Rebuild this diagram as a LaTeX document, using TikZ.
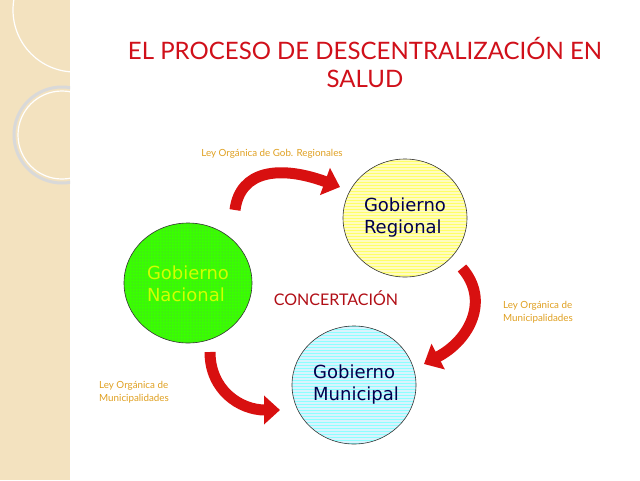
\documentclass[tikz,border=0pt]{standalone}
\usepackage{fontspec}
\setmainfont{Lato}
\newfontfamily\verd{DejaVu Sans}
\usetikzlibrary{arrows.meta,patterns}
\definecolor{strip}{HTML}{F3E2BF}
\definecolor{ttl}{HTML}{D0101A}
\definecolor{lab}{HTML}{E0A020}
\definecolor{arr}{HTML}{D81010}
\begin{document}
\begin{tikzpicture}[x=1pt,y=-1pt,
  circ/.style={draw=black!80,line width=0.6pt},
  ctext/.style={font=\verd\fontsize{18}{22}\selectfont,align=left},
  law/.style={font=\fontsize{9.8}{13}\selectfont,text=lab,align=left,inner sep=0},
  bigarrow/.style={line width=11pt,-{Triangle[length=16pt,width=28pt]},arr}]
\useasboundingbox (0,0) rectangle (640,480);
\fill[white] (0,0) rectangle (640,480);
\fill[strip] (0,0) rectangle (70,480);
\draw[white,line width=1pt] (70,0) -- (70,480);
\begin{scope}
\clip (0,0) rectangle (70,480);
\draw[white,line width=1.2pt] (75,10) circle (62);
\draw[black!15,line width=3pt] (62,135) circle (48);
\draw[white,line width=1.2pt] (62,135) circle (44);
\end{scope}
\node[text=ttl,font=\fontsize{24}{28}\selectfont,align=center] (title) at (365,62) {EL PROCESO DE DESCENTRALIZACIÓN EN\\SALUD};
% circles
\fill[green!70!lime] (188,283) ellipse (64 and 60);
\fill[pattern=dots,pattern color=green!40!black!60] (188,283) ellipse (64 and 60);
\draw[circ] (188,283) ellipse (64 and 60);
\node[ctext,text=lime!70!yellow] (nac) at (188,284) {Gobierno\\Nacional};
\fill[yellow!25] (405,218) ellipse (62 and 59);
\fill[pattern=horizontal lines,pattern color=yellow!60] (405,218) ellipse (62 and 59);
\draw[circ] (405,218) ellipse (62 and 59);
\node[ctext,text=blue!30!black] (reg) at (405,218) {Gobierno\\Regional};
\fill[cyan!15] (354,385) ellipse (62 and 59);
\fill[pattern=horizontal lines,pattern color=cyan!45] (354,385) ellipse (62 and 59);
\draw[circ] (354,385) ellipse (62 and 59);
\node[ctext,text=blue!30!black] (mun) at (356,385) {Gobierno\\Municipal};
\node[text=ttl!85!black,font=\fontsize{16}{18}\selectfont] (conc) at (336,298) {CONCERTACIÓN};
% labels
\node[law] (l1) at (272,154) {Ley Orgánica de Gob. Regionales};
\node[law,anchor=west] (l2) at (503,312) {Ley Orgánica de\\Municipalidades};
\node[law,anchor=west] (l3) at (99,392) {Ley Orgánica de\\Municipalidades};
% arrows
\coordinate (a1s) at (235,210); \coordinate (a1e) at (340,187);
\coordinate (a2s) at (462,268); \coordinate (a2e) at (424,364);
\coordinate (a3s) at (210,352); \coordinate (a3e) at (280,410);
\draw[bigarrow] (a1s) .. controls (240,170) and (280,165) .. (a1e);
\draw[bigarrow] (a2s) .. controls (490,300) and (470,340) .. (a2e);
\draw[bigarrow] (a3s) .. controls (210,390) and (240,410) .. (a3e);
\end{tikzpicture}
\end{document}
